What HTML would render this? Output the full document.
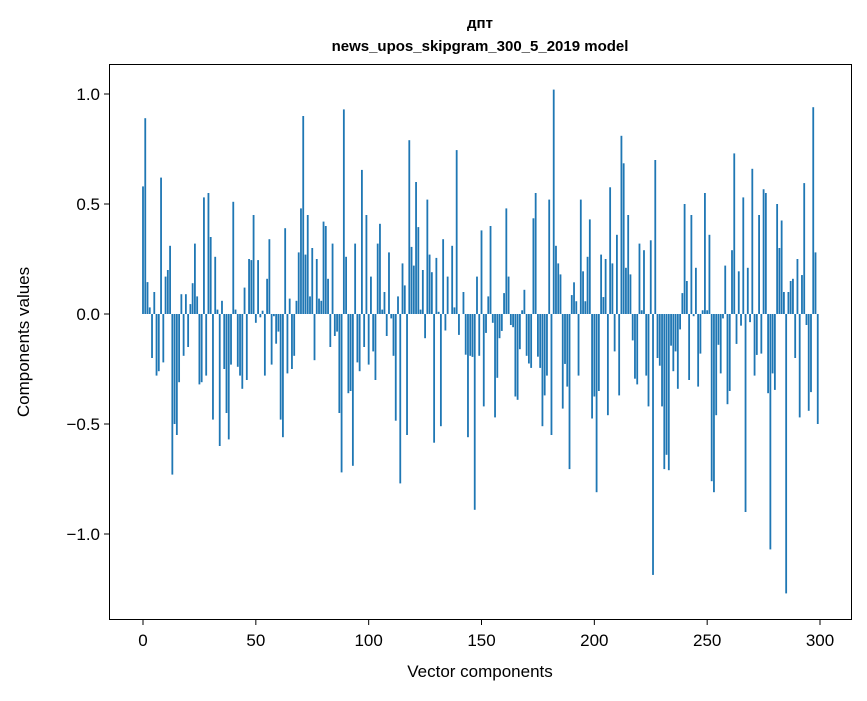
<!DOCTYPE html>
<html><head><meta charset="utf-8"><style>
body{margin:0;background:#fff;width:867px;height:696px;overflow:hidden}
svg{font-family:"Liberation Sans","DejaVu Sans",sans-serif}
</style></head><body>
<svg id="chart" width="867" height="696" viewBox="0 0 867 696" xmlns="http://www.w3.org/2000/svg">
<rect width="867" height="696" fill="#fff"/>
<text x="480" y="28" text-anchor="middle" font-size="15" font-weight="bold">дпт</text>
<text x="480" y="51" text-anchor="middle" font-size="15" font-weight="bold">news_upos_skipgram_300_5_2019 model</text>
<g id="bars"></g>
<g id="yaxis"></g>
<g id="xaxis"></g>
<rect x="109.5" y="64.5" width="742" height="555" fill="none" stroke="#000" stroke-width="1"/>
<text x="480" y="677" text-anchor="middle" font-size="17">Vector components</text>
<text transform="translate(29,342) rotate(-90)" text-anchor="middle" font-size="17">Components values</text>
</svg>
<script>
const values = [
0.58,0.89,0.145,0.03,-0.20,0.10,-0.28,-0.26,0.62,-0.22,
0.17,0.20,0.31,-0.73,-0.50,-0.55,-0.31,0.09,-0.19,0.09,
-0.15,0.045,0.14,0.32,0.08,-0.32,-0.31,0.53,-0.28,0.55,
0.35,-0.48,0.26,0.02,-0.60,0.06,-0.25,-0.45,-0.57,-0.23,
0.51,0.02,-0.24,-0.28,-0.34,0.12,-0.30,0.25,0.245,0.45,
-0.04,0.245,-0.015,0.015,-0.28,0.16,0.34,-0.23,-0.01,-0.135,
-0.08,-0.48,-0.56,0.39,-0.27,0.07,-0.25,-0.19,0.06,0.28,
0.48,0.90,0.27,0.45,0.08,0.30,-0.21,0.25,0.07,0.06,
0.42,0.40,0.16,-0.15,0.32,-0.10,-0.08,-0.45,-0.72,0.93,
0.26,-0.36,-0.35,-0.69,0.32,-0.22,-0.26,0.655,-0.15,0.45,
-0.23,0.17,-0.17,-0.30,0.32,0.41,0.02,0.10,-0.10,0.28,
-0.02,-0.19,-0.485,0.08,-0.77,0.23,0.13,-0.55,0.79,0.305,
0.22,0.60,0.395,0.02,0.20,-0.11,0.52,0.27,0.19,-0.585,
0.255,0.01,-0.51,0.34,-0.075,0.17,0.0,0.31,0.03,0.745,
-0.095,0.0,0.10,-0.185,-0.56,-0.19,-0.195,-0.89,0.17,-0.19,
0.38,-0.42,-0.086,0.08,0.40,-0.04,-0.47,-0.29,-0.11,-0.077,
0.095,0.48,0.17,-0.05,-0.06,-0.375,-0.39,-0.16,0.017,0.11,
-0.19,-0.225,-0.245,0.435,0.55,-0.194,-0.245,-0.51,-0.37,-0.28,
0.52,-0.55,1.02,0.31,0.23,0.18,-0.43,-0.227,-0.33,-0.705,
0.086,0.144,0.058,-0.28,0.52,0.194,0.058,0.26,0.43,-0.475,
-0.375,-0.81,-0.35,0.27,0.077,0.25,-0.46,0.576,0.23,-0.17,
0.36,-0.37,0.81,0.685,0.21,0.45,0.18,-0.12,-0.294,-0.32,
0.32,0.017,0.29,-0.28,-0.42,0.335,-1.186,0.70,-0.20,-0.235,
-0.42,-0.705,-0.64,-0.71,-0.144,-0.26,-0.17,-0.34,-0.07,0.095,
0.50,0.15,-0.30,0.45,-0.01,0.21,-0.33,-0.18,0.017,0.55,
0.017,0.36,-0.76,-0.81,-0.46,-0.14,-0.27,-0.02,0.22,-0.41,
-0.35,0.29,0.73,-0.136,0.194,-0.053,0.53,-0.90,0.21,-0.037,
0.66,-0.28,-0.186,0.45,-0.18,0.567,0.55,-0.36,-1.07,-0.27,
-0.345,0.50,0.30,0.425,0.10,-1.27,0.10,0.15,0.16,-0.20,
0.25,-0.47,0.177,0.595,-0.05,-0.44,-0.355,0.94,0.28,-0.50
];
const yTicks = [-1.0,-0.5,0.0,0.5,1.0];
const yTickLabels = ["\u22121.0","\u22120.5","0.0","0.5","1.0"];
const xTicks = [0,50,100,150,200,250,300];

const NS="http://www.w3.org/2000/svg";
const xScale = v => 143 + v*2.2567;
const yScale = v => 314 - v*220;
const barsG=document.getElementById('bars');
values.forEach((v,i)=>{
  const r=document.createElementNS(NS,'rect');
  
  
  const x0=xScale(i-0.4), x1=xScale(i+0.4);
  const y0=yScale(Math.max(v,0)), y1=yScale(Math.min(v,0));
  r.setAttribute('x',x0);r.setAttribute('width',x1-x0);
  r.setAttribute('y',y0);r.setAttribute('height',Math.max(y1-y0,0.01));
  r.setAttribute('fill','#1f77b4');
  barsG.appendChild(r);
});
const ya=document.getElementById('yaxis');
yTicks.forEach((t,i)=>{
  const y=yScale(t);
  const l=document.createElementNS(NS,'line');
  
  
  l.setAttribute('x1',104);l.setAttribute('x2',109);l.setAttribute('y1',y);l.setAttribute('y2',y);l.setAttribute('stroke','#000');
  ya.appendChild(l);
  const tx=document.createElementNS(NS,'text');
  
  
  tx.setAttribute('x',100);tx.setAttribute('y',y+6);tx.setAttribute('text-anchor','end');tx.setAttribute('font-size','17');
  tx.textContent=yTickLabels[i];
  ya.appendChild(tx);
});
const xa=document.getElementById('xaxis');
xTicks.forEach(t=>{
  const x=xScale(t);
  const l=document.createElementNS(NS,'line');
  
  
  l.setAttribute('x1',x);l.setAttribute('x2',x);l.setAttribute('y1',620);l.setAttribute('y2',625);l.setAttribute('stroke','#000');
  xa.appendChild(l);
  const tx=document.createElementNS(NS,'text');
  
  
  tx.setAttribute('x',x);tx.setAttribute('y',646);tx.setAttribute('text-anchor','middle');tx.setAttribute('font-size','17');
  tx.textContent=String(t);
  xa.appendChild(tx);
});
</script>
</body></html>
